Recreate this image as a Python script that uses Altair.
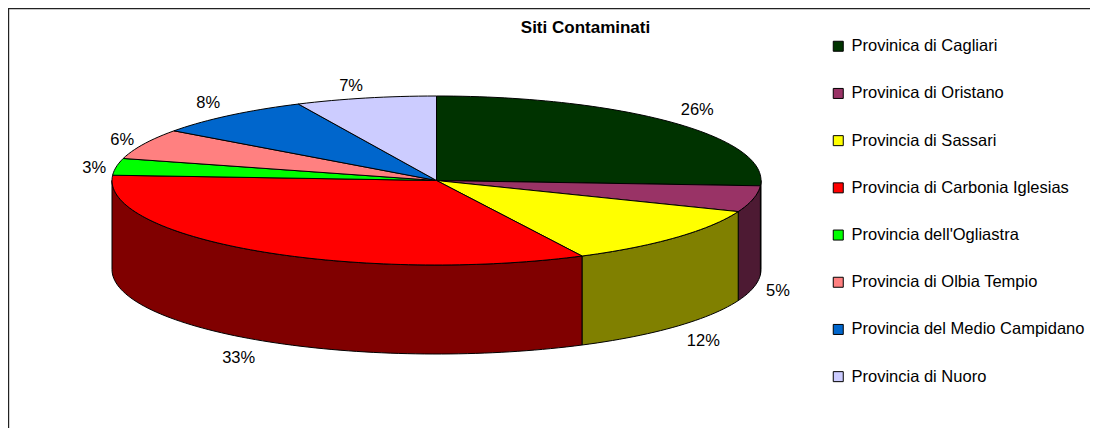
import math
import altair as alt
import pandas as pd

provinces = ["Provinica di Cagliari", "Provinica di Oristano", "Provincia di Sassari",
             "Provincia di Carbonia Iglesias", "Provincia dell'Ogliastra",
             "Provincia di Olbia Tempio", "Provincia del Medio Campidano", "Provincia di Nuoro"]
values = [26.0, 5.0, 11.6, 33.4, 3.2, 5.8, 8.0, 7.0]
top_colors = ["#003300", "#993366", "#FFFF00", "#FF0000", "#00FF00", "#FF8080", "#0066CC", "#CCCCFF"]
side_colors = ["#001A00", "#4D1A33", "#808000", "#800000", "#008000", "#804040", "#003366", "#666680"]
title_text = "Siti Contaminati"
label_dx = [2, -5, 5, -2, 8, 6, -2, -8]
label_dy = [0, -1, 2, 3, 4, 4, 2, 6]

W, H = 1082, 420
CX, CY, RX, RY, DEPTH = 436.5, 180.5, 324.5, 84.5, 89
LRX, LRY = 355, 103
FONT = "Liberation Sans"


def pt(deg, dy=0):
    a = math.radians(deg)
    return CX + RX * math.sin(a), CY - RY * math.cos(a) + dy


top_rows, side_rows, label_rows = [], [], []
cum = 0.0
total = sum(values)
for idx, (name, val) in enumerate(zip(provinces, values)):
    t0, t1 = cum / total * 360, (cum + val) / total * 360
    cum += val
    steps = max(2, int((t1 - t0) / 1.5))
    arc = [t0 + (t1 - t0) * i / steps for i in range(steps + 1)]
    poly = [(CX, CY)] + [pt(t) for t in arc] + [(CX, CY)]
    for i, (x, y) in enumerate(poly):
        top_rows.append({"x": x, "y": y, "k": name, "o": i})
    s0, s1 = max(t0, 90), min(t1, 270)
    if s1 > s0:
        n = max(2, int((s1 - s0) / 1.5))
        sa = [s0 + (s1 - s0) * i / n for i in range(n + 1)]
        spoly = [pt(t) for t in sa] + [pt(t, DEPTH) for t in reversed(sa)]
        spoly.append(spoly[0])
        for i, (x, y) in enumerate(spoly):
            side_rows.append({"x": x, "y": y, "k": name + " (lato)", "o": i})
    mid = math.radians((t0 + t1) / 2)
    front = DEPTH if math.cos(mid) < 0 else 0
    label_rows.append({"x": CX + LRX * math.sin(mid) + label_dx[idx],
                       "y": CY - LRY * math.cos(mid) + front + label_dy[idx],
                       "t": f"{round(val)}%"})

domain = provinces + [p + " (lato)" for p in provinces]
color_range = top_colors + side_colors
xs = alt.Scale(domain=[8, 8 + W], range=[0, W], nice=False, zero=False)
ys = alt.Scale(domain=[8, 8 + H], range=[0, H], nice=False, zero=False)
X = alt.X("x:Q", scale=xs, axis=None)
Y = alt.Y("y:Q", scale=ys, axis=None)
legend = alt.Legend(values=provinces, title=None, orient="none", legendX=822, legendY=30,
                    symbolType="square", symbolSize=100, symbolStrokeColor="#000000",
                    symbolStrokeWidth=1, symbolOpacity=1, labelFont=FONT, labelFontSize=16.5,
                    labelColor="#000000", rowPadding=30.2, labelOffset=5, labelLimit=300)
fill = alt.Fill("k:N", scale=alt.Scale(domain=domain, range=color_range), legend=legend, sort=None)

side = alt.Chart(pd.DataFrame(side_rows)).mark_line(stroke="#000000", strokeWidth=1, interpolate="linear").encode(
    x=X, y=Y, fill=fill, order="o:Q")
top = alt.Chart(pd.DataFrame(top_rows)).mark_line(stroke="#000000", strokeWidth=1, interpolate="linear").encode(
    x=X, y=Y, fill=fill, order="o:Q")
labels = alt.Chart(pd.DataFrame(label_rows)).mark_text(font=FONT, fontSize=16.5, color="#000000").encode(
    x=X, y=Y, text="t:N")
title = alt.Chart(pd.DataFrame({"t": [title_text]})).mark_text(
    font=FONT, fontSize=17, fontWeight="bold", color="#000000").encode(
    x=alt.value(577.5), y=alt.value(20), text="t:N")
frame = alt.Chart(pd.DataFrame({"a": [0]})).mark_rect(
    fill="#FFFFFF", stroke="#222222", strokeWidth=1.2).encode(
    x=alt.value(0.6), x2=alt.value(1110), y=alt.value(0.6), y2=alt.value(440))

chart = alt.layer(frame, side, top, labels, title).properties(
    width=W, height=H, padding=0, autosize=alt.AutoSizeParams(type="none")
).configure_view(stroke=None).configure(background="#FFFFFF")
chart.save("out.html", embed_options={"renderer": "svg", "actions": False})
